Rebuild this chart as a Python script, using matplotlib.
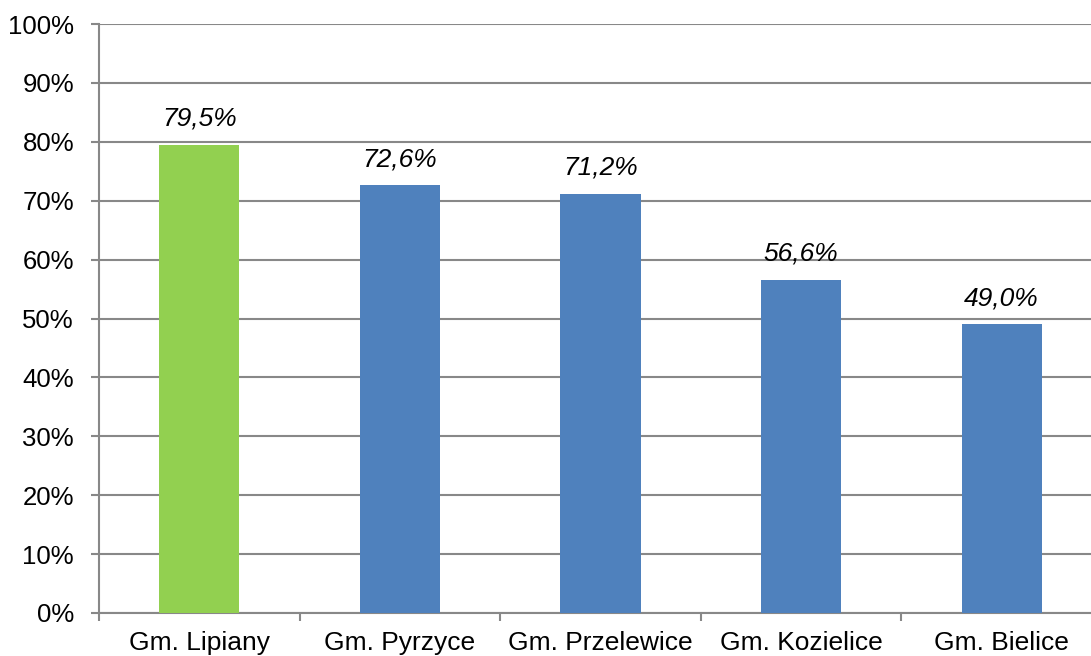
import matplotlib
matplotlib.use("Agg")
import matplotlib.pyplot as plt
from matplotlib.ticker import FixedLocator, PercentFormatter

categories = ["Gm. Lipiany", "Gm. Pyrzyce", "Gm. Przelewice", "Gm. Kozielice", "Gm. Bielice"]
values = [79.5, 72.6, 71.2, 56.6, 49.0]
labels = ["79,5%", "72,6%", "71,2%", "56,6%", "49,0%"]
colors = ["#92D050", "#4F81BD", "#4F81BD", "#4F81BD", "#4F81BD"]

plt.rcParams['font.family'] = ['Liberation Sans', 'DejaVu Sans']

W, H = 1091, 656
fig = plt.figure(figsize=(W / 100, H / 100), dpi=100)
ax = fig.add_axes([99 / W, (656 - 613) / H, (1102 - 99) / W, (613 - 24) / H])

x = list(range(len(categories)))
ax.bar(x, values, width=0.40, color=colors, zorder=3)

for xi, v, lab in zip(x, values, labels):
    ax.annotate(lab, (xi, v), xytext=(0, 10), textcoords="offset points",
                ha="center", va="bottom", fontsize=19, style="italic", color="#000000")

ax.set_xlim(-0.5, len(categories) - 0.5)
ax.set_ylim(0, 100)
ax.set_yticks(range(0, 101, 10))
ax.yaxis.set_major_formatter(PercentFormatter(decimals=0))
ax.set_xticks(x)
ax.set_xticklabels(categories)
ax.xaxis.set_minor_locator(FixedLocator([i - 0.5 for i in range(len(categories) + 1)]))

ax.grid(axis="y", color="#888888", linewidth=1.5, zorder=0)
for s in ["top", "right"]:
    ax.spines[s].set_visible(False)
for s in ["left", "bottom"]:
    ax.spines[s].set_color("#888888")
    ax.spines[s].set_linewidth(1.5)

ax.tick_params(axis="y", length=6, width=1.5, color="#888888", labelsize=18.5, pad=12)
ax.tick_params(axis="x", which="major", length=0, labelsize=19, pad=13)
ax.tick_params(axis="x", which="minor", length=6, width=1.5, color="#888888")

fig.savefig("out.png", dpi=100)
